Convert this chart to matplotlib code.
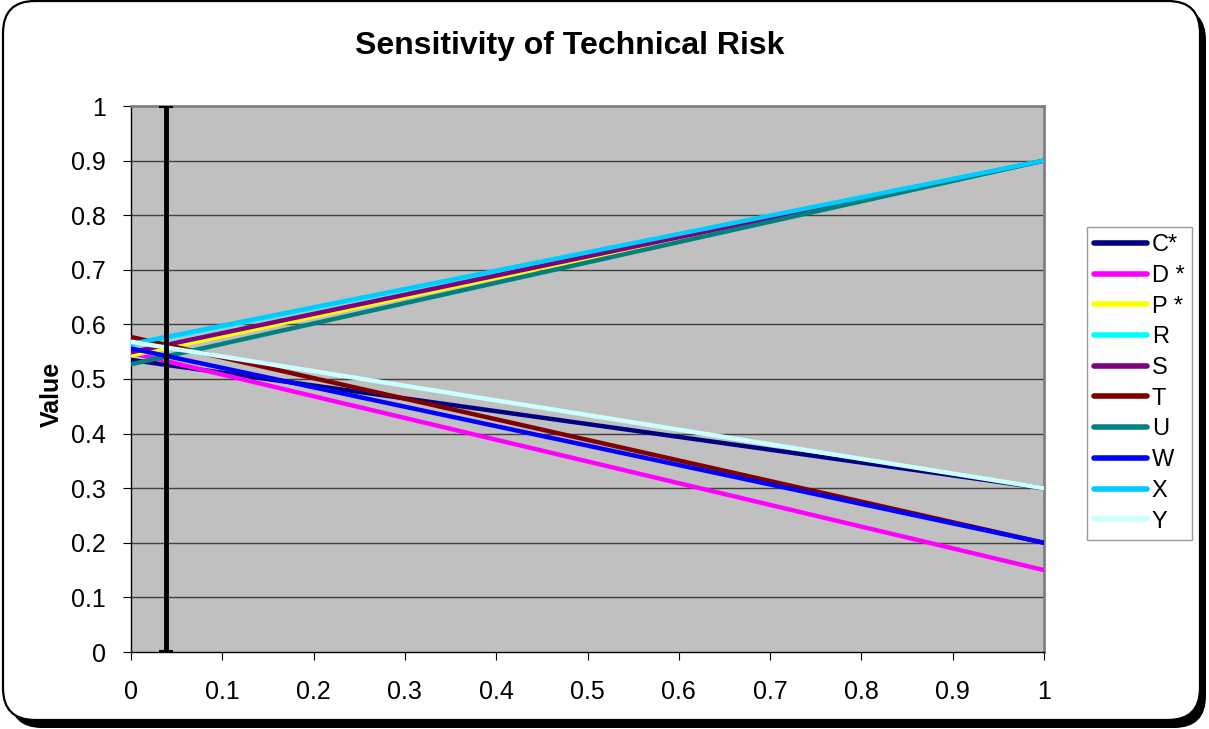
import matplotlib.pyplot as plt
from matplotlib.patches import FancyBboxPatch
import numpy as np

plt.rcParams["font.family"] = ["Liberation Sans", "DejaVu Sans"]

# data
x_vals = [0, 1]
series = ["C*", "D *", "P *", "R", "S", "T", "U", "W", "X", "Y"]
start = [0.535, 0.548, 0.543, 0.562, 0.549, 0.577, 0.527, 0.556, 0.564, 0.568]
end = [0.30, 0.15, 0.90, 0.90, 0.90, 0.20, 0.90, 0.20, 0.90, 0.30]
colors = ["#000080", "#FF00FF", "#FFFF00", "#00FFFF", "#800080",
          "#800000", "#008080", "#0000FF", "#00CCFF", "#CCFFFF"]
marker_x = 0.038
ticks = np.round(np.arange(0, 1.01, 0.1), 1)
tick_labels = ["0", "0.1", "0.2", "0.3", "0.4", "0.5", "0.6", "0.7", "0.8", "0.9", "1"]

W, H = 1209, 729
fig = plt.figure(figsize=(W / 100, H / 100), dpi=100)

# background frame drawn in pixel coordinates
bg = fig.add_axes([0, 0, 1, 1])
bg.set_xlim(0, W)
bg.set_ylim(H, 0)
bg.axis("off")
shadow = FancyBboxPatch((10, 8), 1196, 720,
                        boxstyle="round,pad=0,rounding_size=32",
                        fc="black", ec="none")
frame = FancyBboxPatch((3, 1), 1197, 719,
                       boxstyle="round,pad=0,rounding_size=32",
                       fc="white", ec="black", lw=1.6)
bg.add_patch(shadow)
bg.add_patch(frame)

ax = fig.add_axes([131 / W, 1 - 652 / H, (1044 - 131) / W, (652 - 106) / H])
ax.set_facecolor("#C0C0C0")

for y in ticks[1:]:
    ax.axhline(y, color="#404040", lw=1, zorder=1)

for name, s, e, c in zip(series, start, end, colors):
    ax.plot(x_vals, [s, e], color=c, lw=3.2, label=name,
            solid_capstyle="round", zorder=3)

ax.plot([marker_x, marker_x], [0, 1], color="black", lw=3.5, zorder=4)
ax.plot([marker_x, marker_x], [0, 1], ls="none", marker="_",
        ms=10, mew=3, color="black", zorder=4)

ax.set_xlim(0, 1)
ax.set_ylim(0, 1)
ax.set_xticks(ticks)
ax.set_xticklabels(tick_labels)
ax.set_yticks(ticks)
ax.set_yticklabels(tick_labels)
ax.tick_params(labelsize=18, length=6, color="black")
ax.tick_params(axis="x", pad=14)
ax.tick_params(axis="y", pad=12)
for sp in ["top", "right"]:
    ax.spines[sp].set_color("#808080")
    ax.spines[sp].set_linewidth(2)
for sp in ["left", "bottom"]:
    ax.spines[sp].set_color("black")
    ax.spines[sp].set_linewidth(1)

fig.text(52 / W, 1 - 394 / H, "Value", fontsize=18, fontweight="bold",
         rotation=90, ha="center", va="center")
fig.text(570 / W, 1 - 54 / H, "Sensitivity of Technical Risk",
         fontsize=23, fontweight="bold", ha="center", va="baseline")

leg = ax.legend(loc="upper left", bbox_to_anchor=(1087 / W, 1 - 227 / H),
                bbox_transform=fig.transFigure, fontsize=17,
                frameon=True, fancybox=False, handlelength=2.25,
                handletextpad=0.2, labelspacing=0.37, borderpad=0.3,
                borderaxespad=0)
leg.get_frame().set_edgecolor("#808080")
leg.get_frame().set_linewidth(1)
for line in leg.get_lines():
    line.set_linewidth(4)

fig.savefig("out.png", dpi=100)
